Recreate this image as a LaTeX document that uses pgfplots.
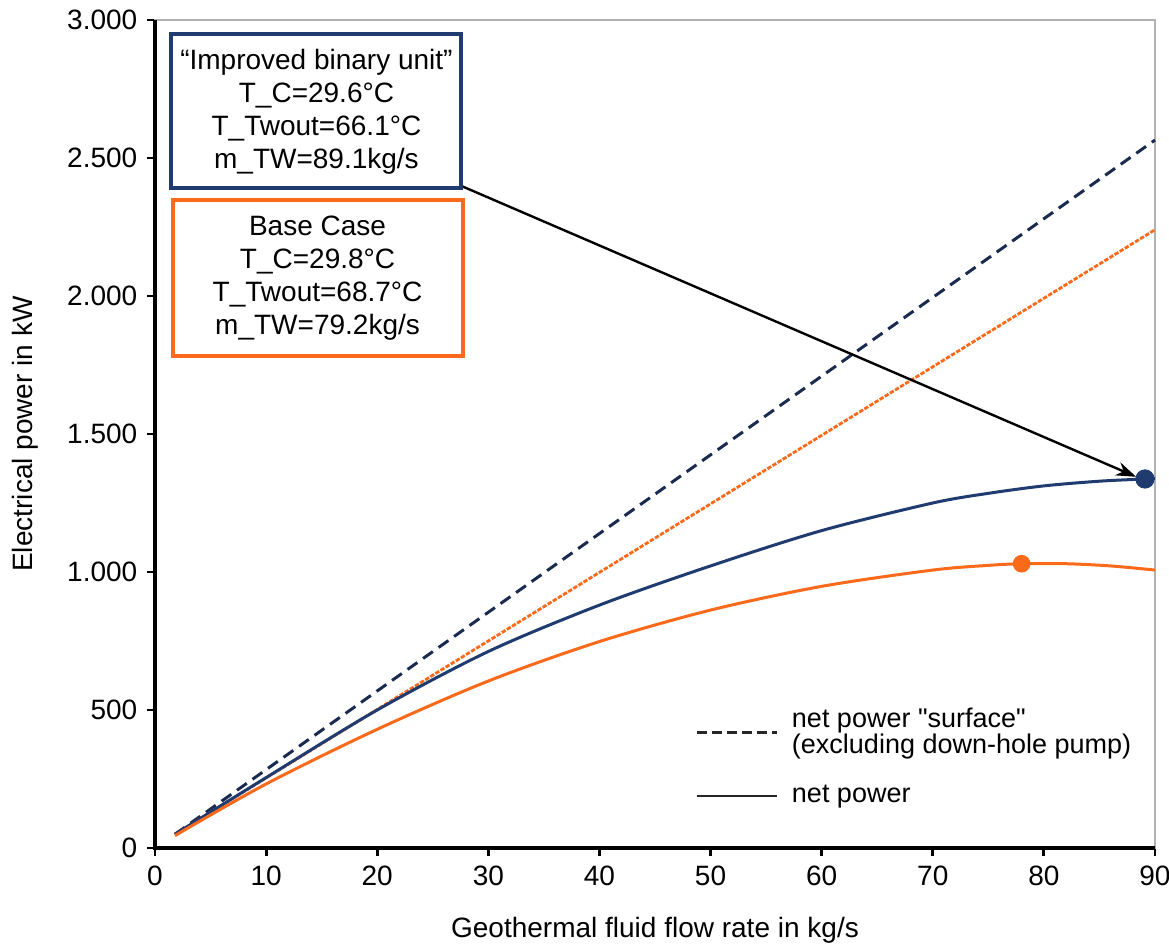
\documentclass[border=0pt]{standalone}
\usepackage{fontspec}
\setmainfont{Liberation Sans}
\usepackage{pgfplots}
\pgfplotsset{compat=1.18}
\usetikzlibrary{arrows.meta}
\definecolor{navy}{HTML}{1F3B70}
\definecolor{navydash}{HTML}{1B2B4F}
\definecolor{orng}{HTML}{FA6A1A}
\begin{document}
\fontsize{14pt}{16.5pt}\selectfont
\begin{tikzpicture}
\begin{axis}[
  scale only axis, width=500pt, height=414pt,
  xmin=0, xmax=90, ymin=0, ymax=3000,
  xtick={0,10,...,90}, ytick={0,500,...,3000},
  tick pos=left, tick align=outside, major tick length=4pt,
  tick style={black, line width=1.4pt},
  axis line style={black!30, line width=0.6pt},
  /pgf/number format/assume math mode=true,
  yticklabel style={/pgf/number format/1000 sep={.}},
  xlabel={Geothermal fluid flow rate in kg/s},
  ylabel={Electrical power in kW},
  xlabel style={at={(axis description cs:0.5,-0.099)}, anchor=center},
  ylabel style={at={(axis description cs:-0.13,0.5)}, anchor=center},
  clip=false,
  legend style={at={(axis cs:48.6,140)}, anchor=south west, draw=none, fill=none,
    inner sep=0pt, row sep=12pt, column sep=6pt, font=\fontsize{13.5pt}{12.8pt}\selectfont,
    nodes={align=left, inner sep=1pt}},
  legend cell align=left,
  legend image code/.code={\draw[#1] (0pt,0pt) -- (40pt,0pt);},
]
\addlegendimage{black!85, line width=1.3pt, dash pattern=on 5pt off 2.5pt}
\addlegendimage{black!85, line width=1.3pt}
\legend{net power \textquotedbl surface\textquotedbl\\(excluding down-hole pump), net power}

% black axis lines
\draw[black, line width=1.6pt] (rel axis cs:0,1) -- (rel axis cs:0,0) -- (rel axis cs:1,0);

% surface net power (dashed)
\addplot[navydash, line width=1.5pt, dash pattern=on 6pt off 3.5pt] coordinates {(1.8,50) (90,2565)};
\addplot[orng, line width=1.4pt, dash pattern=on 2.2pt off 0.8pt] coordinates {(1.8,50) (90,2240)};

% net power
\addplot[navy, line width=1.5pt, smooth] coordinates {
 (1.8,50) (10,255) (20,500) (30,712) (40,880) (50,1022) (60,1150) (70,1250) (75,1285) (80,1312) (85,1329) (89.1,1337) (90,1338)};
\addplot[orng, line width=1.5pt, smooth] coordinates {
 (1.8,45) (10,232) (20,430) (30,605) (40,748) (50,862) (60,948) (70,1007) (75,1024) (78,1030) (82,1030) (86,1022) (90,1007)};

% optimum points
\addplot[only marks, mark=*, mark size=4.6pt, navy] coordinates {(89.1,1337)};
\addplot[only marks, mark=*, mark size=4.2pt, orng] coordinates {(78,1030)};

% arrow
\addplot[black, line width=1.2pt, -{Stealth[length=10pt,width=7pt]}] coordinates {(27.5,2400) (88.3,1345)};

% boxes
\node[draw=navy, line width=2pt, fill=white, minimum width=145pt, minimum height=77pt,
  anchor=north west, align=center, inner sep=2pt] at (axis cs:1.3,2955)
  {“Improved binary unit”\\T\_C=29.6°C\\T\_Twout=66.1°C\\m\_TW=89.1kg/s};
\node[draw=orng, line width=2pt, fill=white, minimum width=145pt, minimum height=78pt,
  anchor=north west, align=center, inner sep=2pt] at (axis cs:1.4,2355)
  {Base Case\\T\_C=29.8°C\\T\_Twout=68.7°C\\m\_TW=79.2kg/s};
\end{axis}
\pgfresetboundingbox
\path (current axis.south west) ++(-77.5pt,-50pt) rectangle ++(584.5pt,474pt);
\end{tikzpicture}
\end{document}
